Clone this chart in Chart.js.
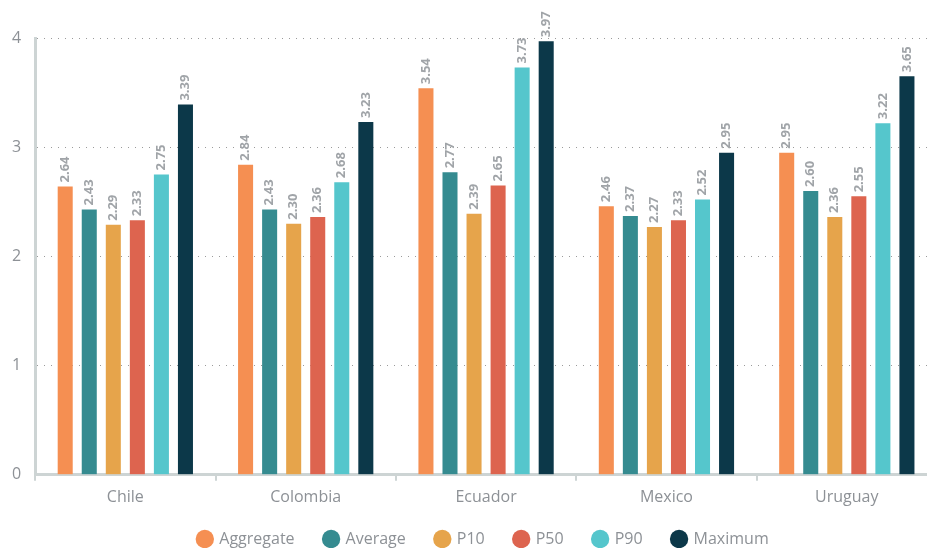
<!DOCTYPE html>
<html>
<head>
<meta charset="utf-8">
<script src="https://cdn.jsdelivr.net/npm/chart.js@4"></script>
<style>
  html, body { margin: 0; padding: 0; background: #fff; overflow: hidden; }
  #wrap { width: 937px; height: 548px; }
</style>
</head>
<body>
<div id="wrap"><canvas id="chart"></canvas></div>
<script>
// categories and series
const countries = ['Chile', 'Colombia', 'Ecuador', 'Mexico', 'Uruguay'];
const seriesNames = ['Aggregate', 'Average', 'P10', 'P50', 'P90', 'Maximum'];
const aggregate = [2.64, 2.84, 3.54, 2.46, 2.95];
const average   = [2.43, 2.43, 2.77, 2.37, 2.60];
const p10       = [2.29, 2.30, 2.39, 2.27, 2.36];
const p50       = [2.33, 2.36, 2.65, 2.33, 2.55];
const p90       = [2.75, 2.68, 3.73, 2.52, 3.22];
const maximum   = [3.39, 3.23, 3.97, 2.95, 3.65];
const yTicks = [0, 1, 2, 3, 4];

const colors = ['#F58F52', '#358B90', '#E6A44B', '#DD644F', '#55C6CC', '#0C3849'];
const allValues = [aggregate, average, p10, p50, p90, maximum];
const textFont = '"Open Sans", sans-serif';

// draws the rotated value labels above each bar
const valueLabels = {
  id: 'valueLabels',
  afterDatasetsDraw(chart) {
    const ctx = chart.ctx;
    ctx.save();
    ctx.font = 'bold 13px ' + textFont;
    ctx.fillStyle = '#a0a4a8';
    ctx.textAlign = 'left';
    ctx.textBaseline = 'middle';
    chart.data.datasets.forEach((ds, i) => {
      const meta = chart.getDatasetMeta(i);
      meta.data.forEach((bar, j) => {
        ctx.save();
        ctx.translate(bar.x, bar.y - 4);
        ctx.rotate(-Math.PI / 2);
        ctx.fillText(ds.data[j].toFixed(2), 0, 0);
        ctx.restore();
      });
    });
    ctx.restore();
  }
};

// keep legend wide spacing but a short box, nudged up and right a bit
const legendHeight = {
  id: 'legendHeight',
  beforeLayout(chart) {
    const lg = chart.legend;
    if (lg && !lg._patched) {
      const orig = lg.fit;
      lg.fit = function () { orig.call(this); this.height = 34; };
      lg._patched = true;
    }
  },
  afterLayout(chart) {
    const lg = chart.legend;
    if (lg) {
      lg.top -= 13;
      lg.bottom = chart.height;
      lg.height = lg.bottom - lg.top;
      lg.left += 16;
      lg.right += 16;
    }
  }
};

new Chart(document.getElementById('chart'), {
  type: 'bar',
  data: {
    labels: countries,
    datasets: seriesNames.map((name, i) => ({
      label: name,
      data: allValues[i],
      backgroundColor: colors[i],
      borderWidth: 0,
      categoryPercentage: 0.8,
      barPercentage: 0.625
    }))
  },
  options: {
    responsive: true,
    maintainAspectRatio: false,
    animation: false,
    layout: { padding: { top: 38, right: 0, left: -2, bottom: 0 } },
    plugins: {
      tooltip: { enabled: false },
      legend: {
        position: 'bottom',
        labels: {
          usePointStyle: true,
          pointStyle: 'circle',
          boxWidth: 13,
          boxHeight: 13,
          padding: 30,
          color: '#8d9196',
          font: { family: textFont, size: 16 }
        }
      }
    },
    scales: {
      x: {
        grid: {
          offset: true,
          drawOnChartArea: false,
          drawTicks: true,
          tickLength: 6,
          color: '#cdd4d4',
          lineWidth: 2
        },
        border: { color: '#cdd4d4', width: 3 },
        ticks: {
          color: '#8d9196',
          font: { family: textFont, size: 16 },
          padding: 7
        }
      },
      y: {
        min: 0,
        max: 4,
        afterBuildTicks(axis) { axis.ticks = yTicks.map(v => ({ value: v })); },
        grid: {
          drawTicks: false,
          color: (c) => c.tick && c.tick.value === 0 ? 'rgba(0,0,0,0)' : '#9a9a9a',
          lineWidth: 1
        },
        border: { color: '#cdd4d4', width: 3, dash: [1, 6] },
        ticks: {
          color: '#8d9196',
          font: { family: textFont, size: 16 },
          padding: 14
        }
      }
    }
  },
  plugins: [valueLabels, legendHeight]
});
</script>
</body>
</html>
